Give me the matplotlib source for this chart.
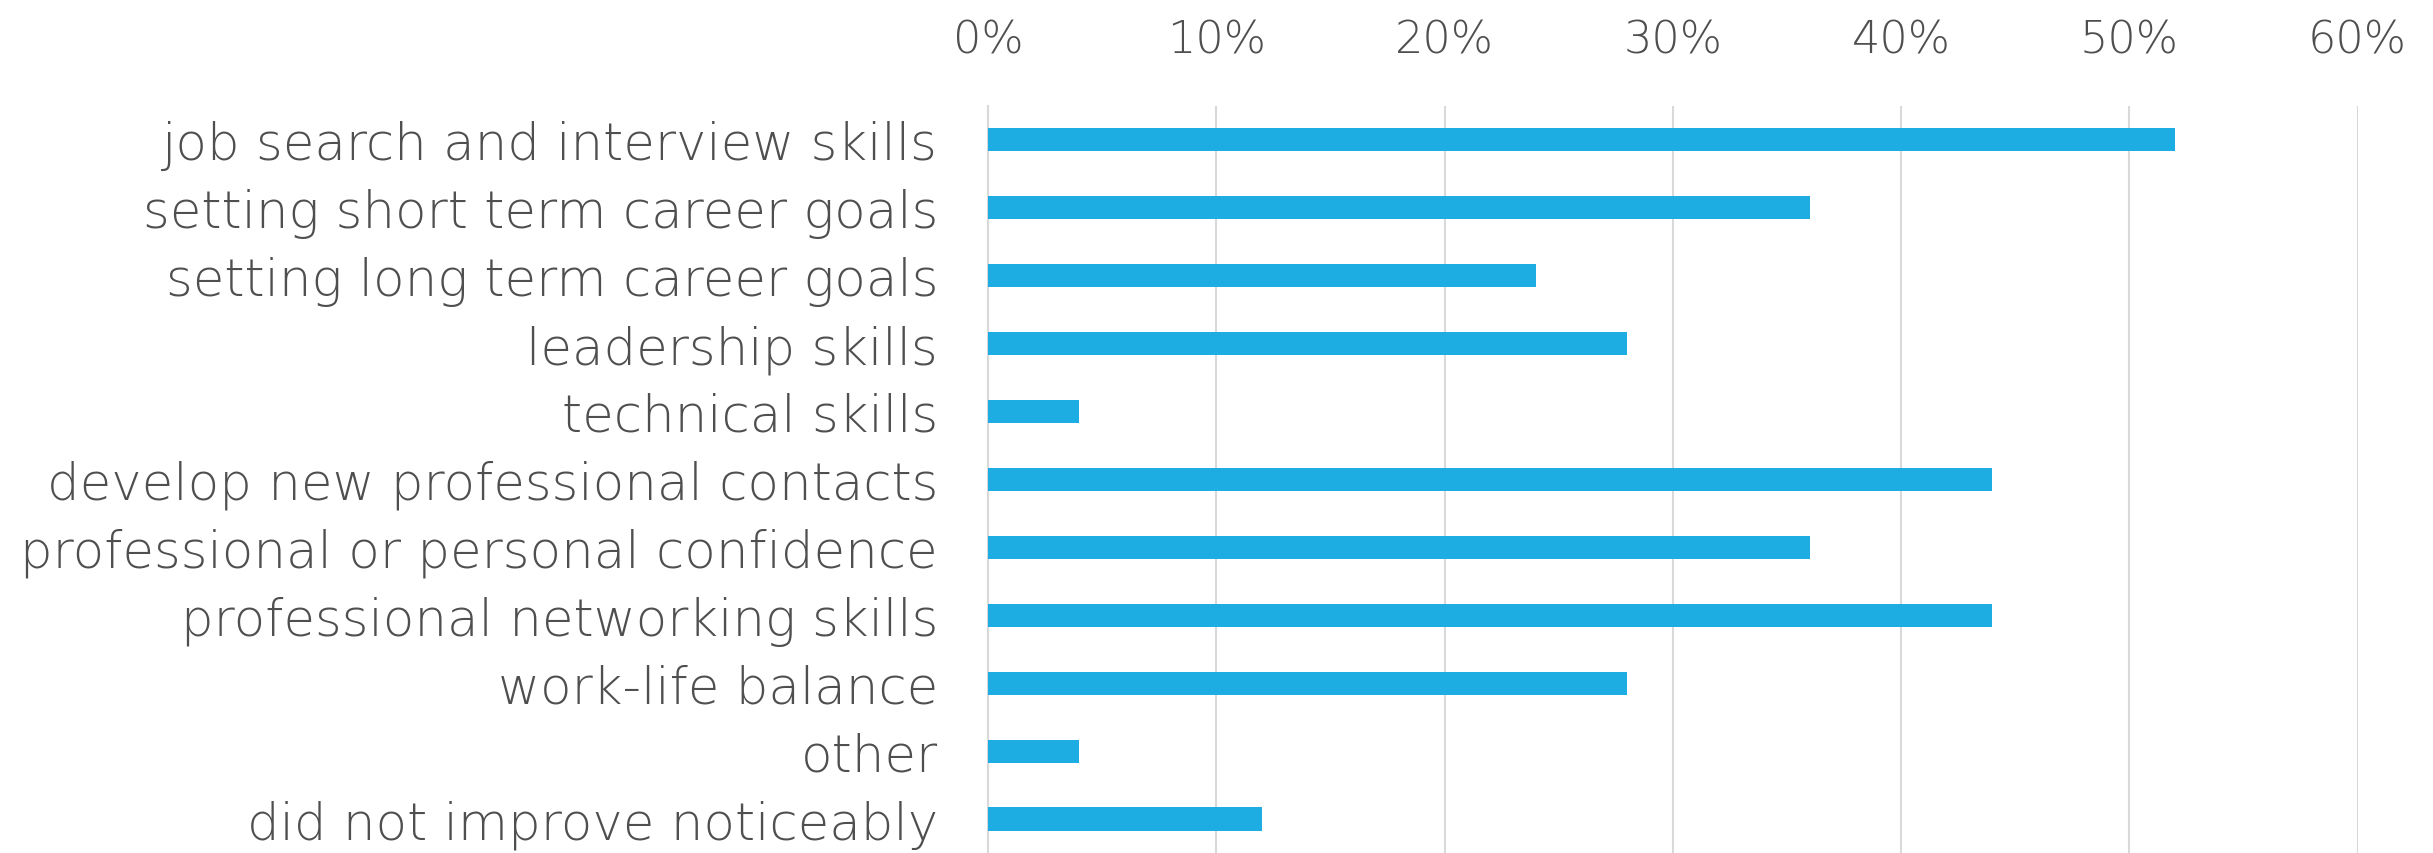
import matplotlib
matplotlib.use("Agg")
import matplotlib.pyplot as plt
from matplotlib.ticker import PercentFormatter

categories = [
    "job search and interview skills",
    "setting short term career goals",
    "setting long term career goals",
    "leadership skills",
    "technical skills",
    "develop new professional contacts",
    "professional or personal confidence",
    "professional networking skills",
    "work-life balance",
    "other",
    "did not improve noticeably",
]
values = [52, 36, 24, 28, 4, 44, 36, 44, 28, 4, 12]
xticks = [0, 10, 20, 30, 40, 50, 60]

bar_color = "#1EADE2"
text_color = "#4F4F4F"
grid_color = "#D9D9D9"

plt.rcParams["font.family"] = ["DejaVu Sans"]

fig = plt.figure(figsize=(24.33, 8.54), dpi=100)
ax = fig.add_axes([0.4061, 0.0, 0.5629, 0.875])

pos = list(range(len(categories)))
ax.barh(pos, values, height=0.34, color=bar_color, zorder=3)

ax.set_ylim(len(categories) - 0.5, -0.5)
ax.set_xlim(0, 60)
ax.set_xticks(xticks)
ax.xaxis.set_major_formatter(PercentFormatter(decimals=0))
ax.xaxis.tick_top()
ax.set_yticks(pos)
ax.set_yticklabels(categories)

ax.tick_params(axis="x", length=0, pad=32, labelsize=32, labelcolor=text_color)
ax.tick_params(axis="y", length=0, pad=36, labelsize=37, labelcolor=text_color)
for lbl in ax.get_xticklabels() + ax.get_yticklabels():
    lbl.set_fontweight("light")

ax.grid(axis="x", color=grid_color, linewidth=1.5, zorder=0)
ax.set_axisbelow(True)
for s in ["top", "right", "bottom"]:
    ax.spines[s].set_visible(False)
ax.spines["left"].set_color(grid_color)
ax.spines["left"].set_linewidth(1.5)

fig.savefig("out.png", dpi=100, facecolor="white")
